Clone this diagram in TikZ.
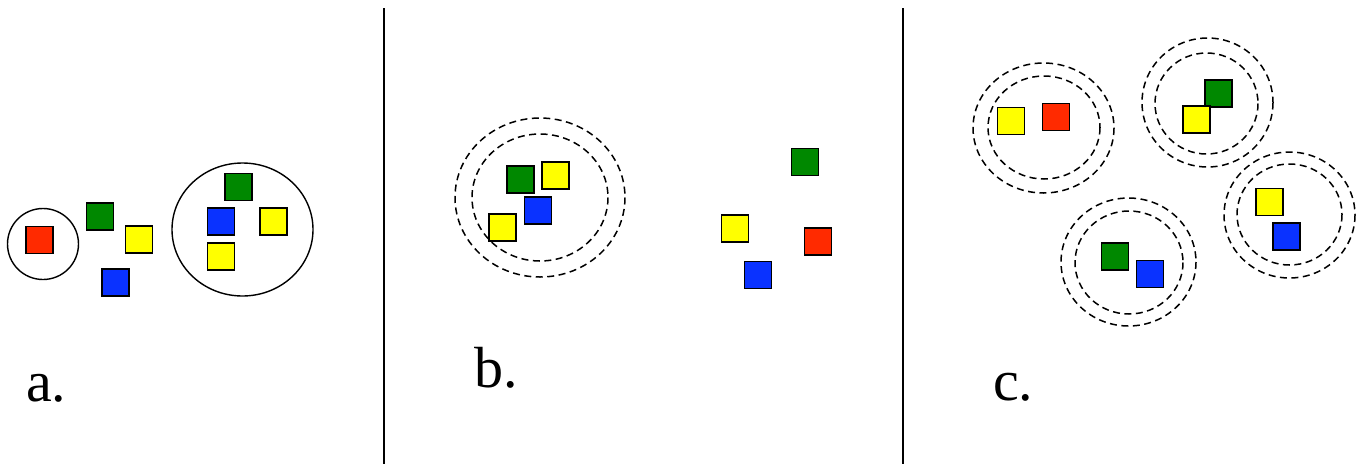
\documentclass[tikz,border=0pt]{standalone}
\usepackage{fontspec}
\setmainfont{Liberation Serif}
\definecolor{sqred}{HTML}{FF2A00}
\definecolor{sqgreen}{HTML}{008800}
\definecolor{sqyellow}{HTML}{FFFF00}
\definecolor{sqblue}{HTML}{0A32FF}
\begin{document}
\begin{tikzpicture}[x=1pt,y=-1pt,
  sq/.style={draw=black,line width=1.5pt,minimum size=27pt,inner sep=0pt,outer sep=0pt},
  R/.style={sq,fill=sqred},
  G/.style={sq,fill=sqgreen},
  Y/.style={sq,fill=sqyellow},
  B/.style={sq,fill=sqblue},
  solidring/.style={line width=1.4pt},
  dashring/.style={line width=1.5pt,dash pattern=on 7pt off 4.5pt},
  divider/.style={line width=1.5pt},
  lbl/.style={font=\fontsize{58}{60}\selectfont,inner sep=0pt,anchor=base west}]
\useasboundingbox (0,0) rectangle (1360,464);
% dividers
\draw[divider] (384,8) -- (384,464);
\draw[divider] (903,8) -- (903,464);
% panel a
\draw[solidring] (43,244) circle (35.5);
\draw[solidring] (242.5,229.5) ellipse (70.5 and 66.5);
\node[R] (a1) at (39.5,240) {};
\node[G] (a2) at (100,216.5) {};
\node[Y] (a3) at (139,239.5) {};
\node[B] (a4) at (115.5,282.5) {};
\node[G] (a5) at (238.5,187) {};
\node[B] (a6) at (221,221.5) {};
\node[Y] (a7) at (273.5,221.5) {};
\node[Y] (a8) at (221,256.5) {};
\node[lbl] (la) at (26,401) {a.};
% panel b
\draw[dashring] (540,197.5) ellipse (85 and 79.5);
\draw[dashring] (540,197.5) ellipse (68 and 63.5);
\node[G] (b1) at (520.5,179.5) {};
\node[Y] (b2) at (555.5,175.5) {};
\node[B] (b3) at (538,210.5) {};
\node[Y] (b4) at (502.5,227.5) {};
\node[G] (b5) at (805,162) {};
\node[Y] (b6) at (735,228.5) {};
\node[R] (b7) at (818,241.5) {};
\node[B] (b8) at (758,275) {};
\node[lbl] (lb) at (474,387) {b.};
% panel c
\draw[dashring] (1043.5,128) ellipse (70.5 and 65);
\draw[dashring] (1044,127.5) ellipse (56 and 51.5);
\node[Y] (c1) at (1011,121) {};
\node[R] (c2) at (1056,117) {};
\draw[dashring] (1207.5,102.5) ellipse (65.5 and 64.5);
\draw[dashring] (1206.5,103.5) ellipse (51.5 and 50.5);
\node[G] (c3) at (1218.5,93.5) {};
\node[Y] (c4) at (1196.5,119.5) {};
\draw[dashring] (1128.5,262) ellipse (67.5 and 64);
\draw[dashring] (1129,262.5) ellipse (54 and 51.5);
\node[G] (c5) at (1115,256.5) {};
\node[B] (c6) at (1150,274) {};
\draw[dashring] (1289.5,215) ellipse (65.5 and 63);
\draw[dashring] (1289.5,214.5) ellipse (52.5 and 50.5);
\node[Y] (c7) at (1269.5,202) {};
\node[B] (c8) at (1286.5,236.5) {};
\node[lbl] (lc) at (993,400) {c.};
\end{tikzpicture}
\end{document}
